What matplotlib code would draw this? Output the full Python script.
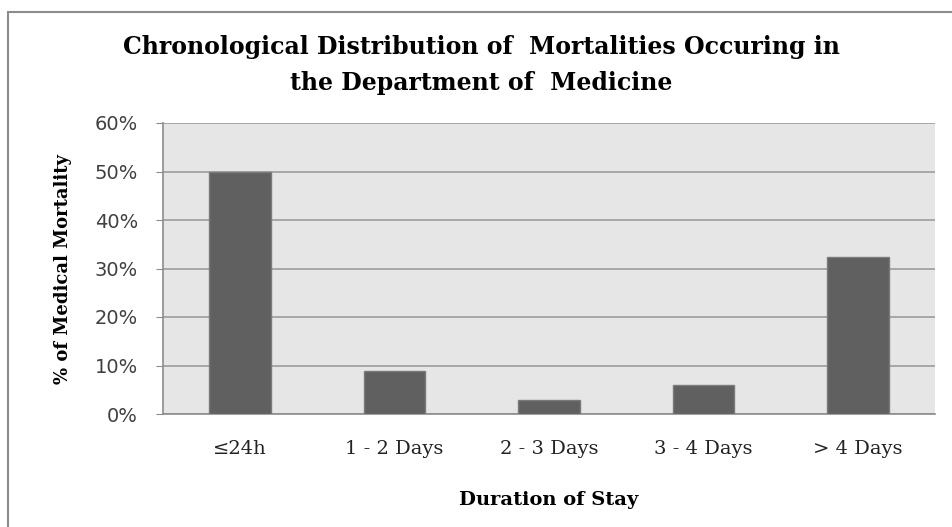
import matplotlib.pyplot as plt
import matplotlib.patches as mpatches
from matplotlib.ticker import FuncFormatter

# data
stay = ["\u226424h", "1 - 2 Days", "2 - 3 Days", "3 - 4 Days", "> 4 Days"]
mortality_pct = [50.0, 8.8, 2.9, 5.9, 32.4]
y_ticks = [0, 10, 20, 30, 40, 50, 60]

serif = ["DejaVu Serif", "Liberation Serif"]

W, H = 952, 527
fig = plt.figure(figsize=(W / 100, H / 100), dpi=100)
fig.patch.set_facecolor("white")

# outer chart border (runs off the right/bottom edge like the original)
fig.patches.append(mpatches.Rectangle((8 / W, -0.05), 1.0, 1 - 12 / H + 0.05,
                                      transform=fig.transFigure, fill=False,
                                      edgecolor="#8c8c8c", linewidth=1.5))

ax = fig.add_axes([163 / W, 1 - 414 / H, (935 - 163) / W, (414 - 123) / H])
ax.set_facecolor("#e6e6e6")

x = range(len(stay))
ax.bar(x, mortality_pct, width=0.4, color="#606060", edgecolor="#7a7a7a",
       linewidth=1, zorder=3)

ax.set_ylim(0, 60)
ax.set_xlim(-0.5, len(stay) - 0.5)
ax.set_yticks(y_ticks)
ax.yaxis.set_major_formatter(FuncFormatter(lambda v, p: "%d%%" % v))
ax.grid(axis="y", color="#9c9c9c", linewidth=1.2, zorder=1)
ax.set_axisbelow(True)

for s in ["top", "right"]:
    ax.spines[s].set_visible(False)
ax.spines["left"].set_color("#8c8c8c")
ax.spines["bottom"].set_color("#8c8c8c")
ax.spines["left"].set_linewidth(1.2)
ax.spines["bottom"].set_linewidth(1.2)

ax.tick_params(axis="y", direction="out", length=5, color="#8c8c8c",
               labelsize=14, labelcolor="#404040", pad=13)
ax.tick_params(axis="x", length=0, pad=19)
ax.set_xticks(list(x))
ax.set_xticklabels(stay, family=serif, fontsize=14, color="#222222")

ax.set_xlabel("Duration of Stay", family=serif, fontweight="bold", fontsize=14)
ax.xaxis.set_label_coords(0.5, (414 - 491) / 291)
ax.set_ylabel("% of Medical Mortality", family=serif, fontweight="bold", fontsize=13)
ax.yaxis.set_label_coords((72 - 163) / 772, 0.5)

# two-line chart title
fig.text(481 / W, 1 - 54 / H, "Chronological Distribution of  Mortalities Occuring in",
         ha="center", va="baseline", family=serif, fontweight="bold", fontsize=17)
fig.text(481 / W, 1 - 90 / H, "the Department of  Medicine",
         ha="center", va="baseline", family=serif, fontweight="bold", fontsize=17)

fig.savefig("out.png", dpi=100)
